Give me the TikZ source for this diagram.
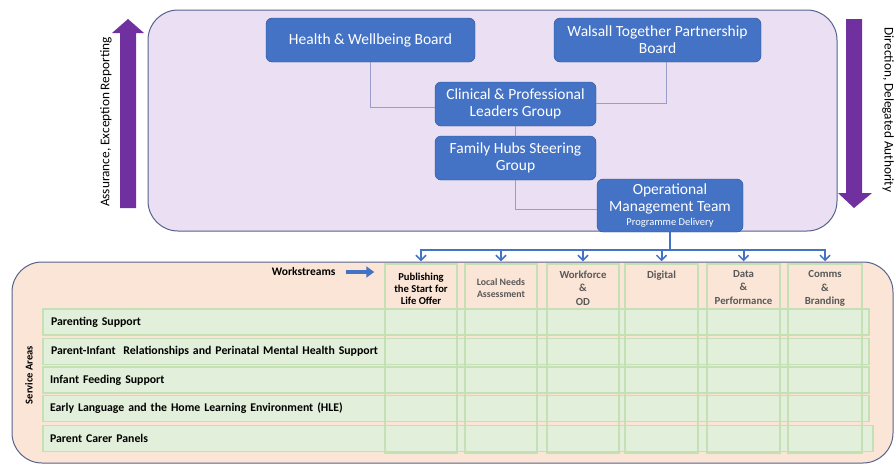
\documentclass[tikz,border=0pt]{standalone}
\usepackage{fontspec}
\setmainfont{Carlito}
\usetikzlibrary{arrows.meta}
\definecolor{boardblue}{HTML}{4472C4}
\definecolor{boardedge}{HTML}{2F528F}
\definecolor{govfill}{HTML}{EADFF3}
\definecolor{frameedge}{HTML}{56628C}
\definecolor{linkgrey}{HTML}{9C9CCC}
\definecolor{arrowpurple}{HTML}{7030A0}
\definecolor{peach}{HTML}{FBE5D6}
\definecolor{cellgreen}{HTML}{E2EFDA}
\definecolor{celledge}{HTML}{C5E0B4}
\definecolor{headgrey}{HTML}{595959}
\tikzset{
    board/.style={rectangle,rounded corners=6pt,draw=boardedge,fill=boardblue,text=white,align=center,font=\fontsize{15.5}{17}\selectfont,inner sep=2pt},
    link/.style={-,draw=linkgrey,line width=0.8pt},
    flow/.style={-{Straight Barb[length=5pt,width=10pt,line width=1.5pt]},draw=boardblue,line width=2pt},
    wsarrow/.style={-{Triangle[length=8pt,width=11pt]},draw=boardblue,line width=4.5pt,shorten <=7pt,shorten >=10pt},
    wscol/.style={rectangle,draw=celledge,line width=1.5pt,minimum height=189pt,inner sep=0pt},
    wshead/.style={align=center,text=headgrey,font=\fontsize{10.8}{13.5}\selectfont\bfseries,inner sep=0pt,anchor=north},
    svcrow/.style={rectangle,draw=celledge,fill=cellgreen,line width=1.5pt,minimum height=26pt,inner xsep=8pt,align=left,font=\fontsize{11.8}{13}\selectfont\bfseries},
    frame/.style={draw=frameedge,line width=1pt,rounded corners=30pt},
}
\begin{document}
\begin{tikzpicture}[x=1pt,y=-1pt]
\useasboundingbox (0,0) rectangle (895,464);
% the two panels
\draw[frame,fill=govfill] (148,10) rectangle (837,231);
\draw[frame,fill=peach] (12,262) rectangle (893,463);
% side arrows
\fill[arrowpurple] (120,208) -- (120,33) -- (112,33) -- (128,19) -- (144,33) -- (136,33) -- (136,208) -- cycle;
\fill[arrowpurple] (846,19) -- (862,19) -- (862,193) -- (872,193) -- (854,208) -- (838,193) -- (846,193) -- cycle;
\node[rotate=90,font=\fontsize{13.3}{15}\selectfont] (uplbl) at (106,122) {Assurance, Exception Reporting};
\node[rotate=-90,font=\fontsize{13.3}{15}\selectfont] (downlbl) at (888,110) {Direction, Delegated Authority};
% governance
\node[board,minimum width=209pt,minimum height=44pt] (hwb) at (370.5,40) {Health \& Wellbeing Board};
\node[board,minimum width=207pt,minimum height=44pt] (wtpb) at (657.5,40) {Walsall Together Partnership\\Board};
\node[board,minimum width=161pt,minimum height=44pt] (cplg) at (515.5,104) {Clinical \& Professional\\Leaders Group};
\node[board,minimum width=161pt,minimum height=44pt] (fhsg) at (515.5,158) {Family Hubs Steering\\Group};
\node[board,minimum width=146pt,minimum height=53pt] (omt) at (670,205.5) {Operational\\Management Team\\[-3pt]{\fontsize{10.5}{12}\selectfont Programme Delivery}};
\draw[link] (hwb.south) |- ([yshift=-3pt]cplg.west);
\draw[link] ([xshift=8.5pt]wtpb.south) |- ([yshift=1pt]cplg.east);
\draw[link] (cplg) -- (fhsg);
\draw[link] (fhsg.south) |- ([yshift=-4pt]omt.west);
% service area rows
\node[svcrow,text width=810pt] (sa1) at (456,322) {Parenting Support};
\node[svcrow,text width=810pt] (sa2) at (456,351.5) {Parent-Infant\ \ Relationships and Perinatal Mental Health Support};
\node[svcrow,text width=812pt,inner xsep=7pt] (sa3) at (456,380) {Infant Feeding Support};
\node[svcrow,text width=812pt,inner xsep=7pt] (sa4) at (456,408.5) {Early Language and the Home Learning Environment (HLE)};
\node[svcrow,text width=816pt,inner xsep=7pt] (sa5) at (458,438.5) {Parent Carer Panels};
% workstream columns
\node[wscol,minimum width=72pt] (ws1) at (421,358.5) {};
\node[wscol,minimum width=72pt] (ws2) at (501,358.5) {};
\node[wscol,minimum width=72pt] (ws3) at (583,358.5) {};
\node[wscol,minimum width=73pt] (ws4) at (661.5,358.5) {};
\node[wscol,minimum width=73pt] (ws5) at (743.5,358.5) {};
\node[wscol,minimum width=74pt] (ws6) at (825,358.5) {};
\node[wshead,text=black,font=\fontsize{10.6}{12}\selectfont\bfseries] (wsh1) at ([yshift=-10pt]ws1.north) {Publishing\\the Start for\\Life Offer};
\node[wshead,font=\fontsize{9.8}{12}\selectfont\bfseries] (wsh2) at ([yshift=-15pt]ws2.north) {Local Needs\\Assessment};
\node[wshead] (wsh3) at ([yshift=-7pt]ws3.north) {Workforce\\\&\\OD};
\node[wshead] (wsh4) at ([yshift=-7pt]ws4.north) {Digital};
\node[wshead] (wsh5) at ([yshift=-7pt]ws5.north) {Data\\\&\\Performance};
\node[wshead] (wsh6) at ([yshift=-7pt]ws6.north) {Comms\\\&\\Branding};
\coordinate (bus) at ([yshift=-18pt]omt.south);
\foreach \i in {1,...,6}
    \draw[flow] (omt.south) -- (bus) -| ([yshift=2pt]ws\i.north);
\node[anchor=east,font=\fontsize{11.5}{13}\selectfont\bfseries] (wslbl) at (339,272) {Workstreams};
\draw[wsarrow] (wslbl.east) -- (wslbl.east -| ws1.west);
\node[rotate=90,font=\fontsize{10.5}{12}\selectfont\bfseries] (salbl) at (29,375) {Service Areas};
\end{tikzpicture}
\end{document}
